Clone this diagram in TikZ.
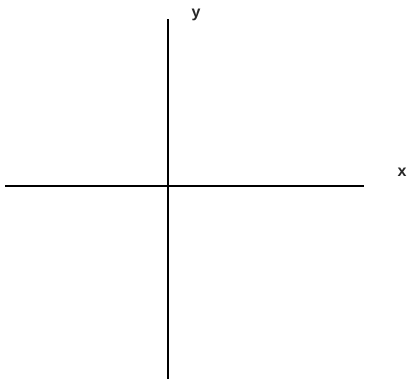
\documentclass[tikz,border=0pt]{standalone}
\usepackage{fontspec}
\setmainfont{Liberation Sans}
\begin{document}
\begin{tikzpicture}[x=1pt,y=-1pt,
  axis/.style={line width=1.3pt,black},
  lbl/.style={font=\fontsize{16}{16}\selectfont\bfseries,text=black!85,inner sep=0pt}]
\useasboundingbox (0,0) rectangle (411,381);
\coordinate (xl) at (5,186);
\coordinate (xr) at (364,186);
\coordinate (yt) at (168,19);
\coordinate (yb) at (168,379);
\draw[axis] (xl) -- (xr);
\draw[axis] (yt) -- (yb);
\node[lbl] (ylab) at (196,15) {y};
\node[lbl] (xlab) at (402,172) {x};
\end{tikzpicture}
\end{document}
